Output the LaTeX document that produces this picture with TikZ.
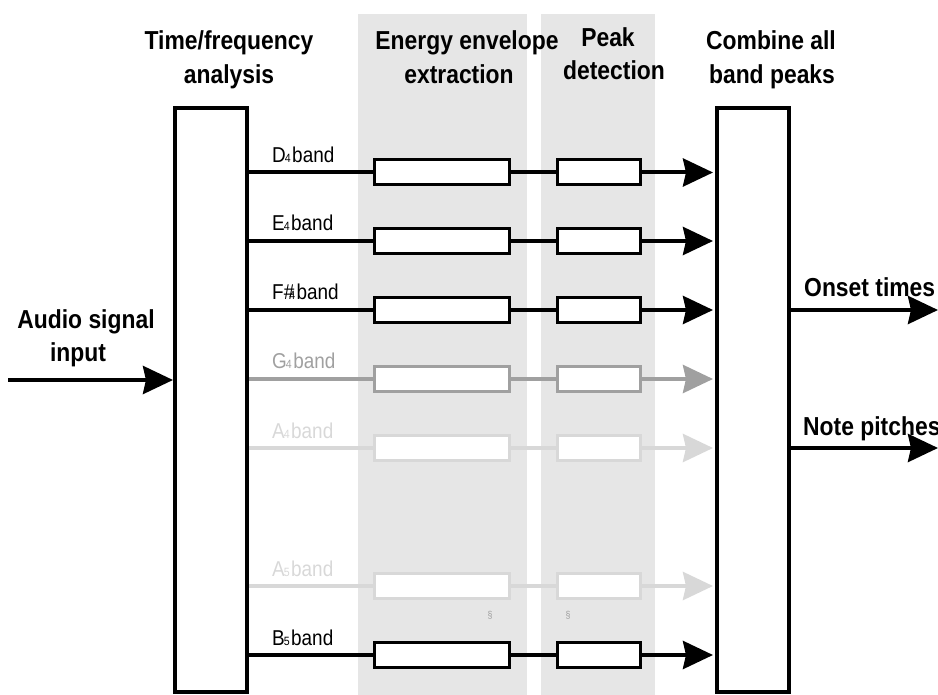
\documentclass[tikz,border=0pt]{standalone}
\usepackage{fontspec}
\setmainfont{Liberation Sans}[FakeStretch=0.88]
\usetikzlibrary{arrows.meta}
\definecolor{colbg}{RGB}{230,230,230}
\definecolor{midgray}{RGB}{160,160,160}
\definecolor{lightgray}{RGB}{216,216,216}
\tikzset{
  head/.style={font=\fontsize{26}{26}\selectfont\bfseries, inner sep=0pt, anchor=base},
  bandlbl/.style={font=\fontsize{21.5}{21.5}\selectfont, inner sep=0pt, anchor=base west},
  bigbox/.style={draw, line width=4pt, fill=white, minimum width=72pt, minimum height=584pt, inner sep=0pt},
  envbox/.style={draw, line width=3pt, fill=white, minimum width=135pt, minimum height=25pt, inner sep=0pt},
  pkbox/.style={draw, line width=3pt, fill=white, minimum width=83pt, minimum height=25pt, inner sep=0pt},
  wire/.style={line width=4pt},
  arr/.style={line width=4pt, -{Stealth[length=30pt, width=28pt, inset=3pt]}},
}
\newcommand{\bandsub}[1]{\kern-1pt{\fontsize{12}{12}\selectfont #1}\kern1.5pt}
\begin{document}
\begin{tikzpicture}[x=1pt, y=-1pt]
\useasboundingbox (0,0) rectangle (938,695);
% background columns
\fill[colbg] (358,14) rectangle (527,695);
\fill[colbg] (541,14) rectangle (655,695);
% big boxes
\node[bigbox] (tf) at (211,400) {};
\node[bigbox] (comb) at (753,400) {};
% headings
\node[head] (h1a) at (229,50) {Time/frequency};
\node[head] (h1b) at (229,84) {analysis};
\node[head] (h2a) at (467,50) {Energy envelope};
\node[head] (h2b) at (459,84) {extraction};
\node[head] (h3a) at (608,47) {Peak};
\node[head] (h3b) at (614,80) {detection};
\node[head] (h4a) at (771,50) {Combine all};
\node[head] (h4b) at (772,84) {band peaks};
% input
\node[head] (in1) at (86,329) {Audio signal};
\node[head] (in2) at (78,362) {input};
\coordinate (src) at (8,380);
\draw[arr] (src) -- (src -| tf.west);
% outputs
\node[head, anchor=base west] (o1) at (804,297) {Onset times};
\node[head, anchor=base west] (o2) at (803,435) {Note pitches};
\coordinate (d1) at (938,310);
\coordinate (d2) at (938,448);
\draw[arr] (d1 -| comb.east) -- (d1);
\draw[arr] (d2 -| comb.east) -- (d2);
% bands
\foreach \y/\lab/\col/\nm in {
  172.5/{D\bandsub{4}band}/black/d,
  241/{E\bandsub{4}band}/black/e,
  310/{F\#\kern-4pt\bandsub{4}band}/black/f,
  379/{G\bandsub{4}band}/midgray/g,
  448/{A\bandsub{4}band}/lightgray/a,
  586/{A\bandsub{5}band}/lightgray/aa,
  655/{B\bandsub{5}band}/black/b}{
  \node[envbox, draw=\col] (env\nm) at (441.5,\y) {};
  \node[pkbox, draw=\col] (pk\nm) at (598.5,\y) {};
  \node[bandlbl, text=\col] (lbl\nm) at (272,\y-10) {\lab};
  \draw[wire, \col] (env\nm.west -| tf.east) -- (env\nm.west);
  \draw[wire, \col] (env\nm.east) -- (pk\nm.west);
  \draw[arr, \col] (pk\nm.east) -- ([xshift=-2pt]pk\nm.east -| comb.west);
}
% faint marks
\node[inner sep=0pt, text=midgray, font=\fontsize{10}{10}\selectfont] (m1) at (490,615) {§};
\node[inner sep=0pt, text=midgray, font=\fontsize{10}{10}\selectfont] (m2) at (568,615) {§};
\end{tikzpicture}
\end{document}
